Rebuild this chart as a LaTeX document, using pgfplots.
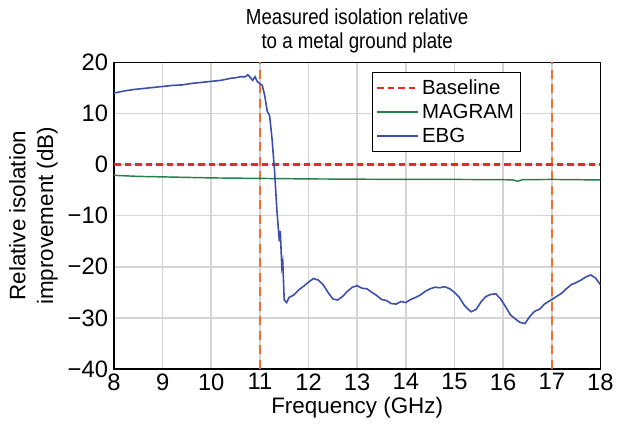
\documentclass[border=0pt]{standalone}
\usepackage{pgfplots}
\pgfplotsset{compat=1.18}
\usepackage{fontspec}
\setmainfont{Liberation Sans}
\newfontfamily\titlefont{Liberation Sans}[FakeStretch=0.86]
\definecolor{cEbg}{RGB}{58,78,172}
\definecolor{cMagram}{RGB}{34,128,72}
\definecolor{cBase}{RGB}{236,40,36}
\definecolor{cVline}{RGB}{242,112,44}
\definecolor{cGrid}{RGB}{212,212,212}
\begin{document}
\begin{tikzpicture}
\begin{axis}[
  scale only axis,
  width=369pt, height=232.5pt,
  xmin=8, xmax=18, ymin=-40, ymax=20,
  xtick={8,9,...,18}, ytick={-40,-30,...,20},
  /pgf/number format/assume math mode=true,
  yticklabel={\ifdim\tick pt<0pt \textminus\pgfmathparse{abs(\tick)}\pgfmathprintnumber{\pgfmathresult}\else\pgfmathprintnumber{\tick}\fi},
  tick label style={font=\fontsize{18}{18}\selectfont},
  label style={font=\fontsize{17}{21}\selectfont},
  major tick length=0pt,
  xticklabel style={yshift=0pt},
  yticklabel style={xshift=-1pt},
  grid=major,
  major grid style={cGrid, line width=1.2pt},
  axis line style={black, line width=0.9pt},
  xlabel={Frequency (GHz)},
  ylabel={Relative isolation\\improvement (dB)},
  ylabel style={align=center, inner ysep=7pt, yshift=-3pt},
  xlabel style={inner ysep=7pt, yshift=5pt},
  title={Measured isolation relative\\to a metal ground plate},
  title style={align=center, font=\titlefont\fontsize{16.5}{18.5}\selectfont, inner ysep=6.3pt, yshift=-5.3pt},
  legend style={at={(0.53,0.968)}, anchor=north west, draw=black, line width=0.8pt,
    font=\fontsize{15.5}{17}\selectfont, row sep=2pt, inner sep=3pt},
  legend cell align=left,
  legend image code/.code={\draw[#1, line width=1.4pt] (0cm,0cm) -- (1.1cm,0cm);},
]
\addplot[cVline, line width=1.4pt, dash pattern=on 7pt off 4pt, forget plot] coordinates {(11,-40) (11,20)};
\addplot[cVline, line width=1.4pt, dash pattern=on 7pt off 4pt, forget plot] coordinates {(17,-40) (17,20)};
\addplot[cBase, line width=2.8pt, dash pattern=on 5pt off 3pt] coordinates {(8,0) (18,0)};
\addlegendentry{Baseline}
\addplot[cMagram, line width=1.1pt] coordinates {
(8,-2.1) (8.5,-2.3) (9,-2.4) (9.5,-2.5) (10,-2.6) (10.5,-2.65) (11,-2.7) (11.5,-2.75) (12,-2.8) (13,-2.85) (14,-2.9) (15,-2.9) (16,-2.95) (16.2,-3.0) (16.3,-3.25) (16.4,-2.95) (17,-2.9) (18,-3.0)};
\addlegendentry{MAGRAM}
\addplot[cEbg, line width=1.2pt] coordinates {
(8.0,14.0) (8.2,14.4) (8.4,14.7) (8.6,14.9) (8.8,15.1) (9.0,15.3) (9.2,15.5) (9.4,15.6) (9.6,15.9) (9.8,16.1) (10.0,16.3) (10.2,16.5) (10.4,16.9) (10.5,17.0) (10.6,17.2) (10.7,17.2) (10.75,17.6) (10.8,17.1) (10.85,16.5) (10.9,17.2) (10.95,16.2) (11.0,15.9) (11.05,15.5) (11.1,13.5) (11.15,10.5) (11.2,9.6) (11.25,5) (11.3,-1) (11.35,-9) (11.4,-15) (11.42,-13) (11.45,-20) (11.47,-19) (11.5,-26.5) (11.55,-27) (11.6,-26) (11.7,-25.5) (11.8,-24.5) (11.9,-23.8) (12.0,-23.0) (12.1,-22.3) (12.2,-22.6) (12.3,-23.5) (12.4,-25) (12.5,-26.3) (12.6,-26.5) (12.7,-25.8) (12.8,-24.8) (12.9,-24.0) (13.0,-23.7) (13.1,-24.2) (13.2,-24.3) (13.3,-25) (13.4,-25.6) (13.5,-26.4) (13.6,-26.6) (13.7,-27.2) (13.8,-27.3) (13.9,-26.8) (14.0,-27) (14.1,-26.4) (14.2,-26) (14.3,-25.5) (14.4,-24.8) (14.5,-24.3) (14.6,-24) (14.7,-24.1) (14.8,-23.9) (14.9,-24.3) (15.0,-25) (15.1,-26) (15.2,-27.5) (15.3,-28.5) (15.35,-28.8) (15.45,-28.3) (15.55,-26.8) (15.65,-25.8) (15.75,-25.4) (15.85,-25.3) (15.95,-26.3) (16.05,-27.8) (16.15,-29.4) (16.25,-30.2) (16.35,-30.9) (16.45,-31.1) (16.55,-29.7) (16.65,-28.7) (16.75,-28.3) (16.85,-27.3) (17.0,-26.4) (17.1,-25.8) (17.2,-25.2) (17.3,-24.3) (17.4,-23.5) (17.5,-23.1) (17.6,-22.6) (17.7,-22.0) (17.8,-21.6) (17.9,-22.2) (18.0,-23.5)};
\addlegendentry{EBG}
\end{axis}
\end{tikzpicture}
\end{document}
